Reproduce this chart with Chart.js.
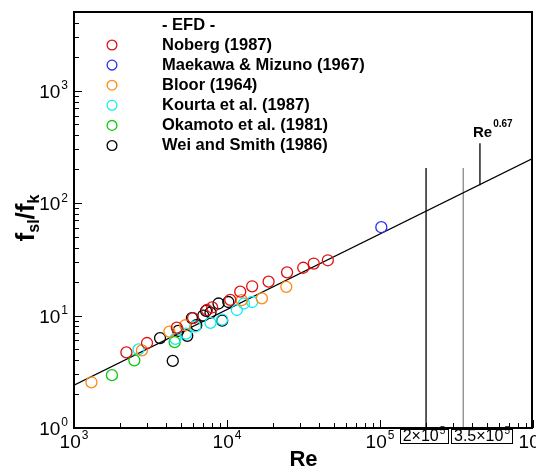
<!DOCTYPE html>
<html>
<head>
<meta charset="utf-8">
<script src="https://cdn.jsdelivr.net/npm/chart.js@4/dist/chart.umd.min.js"></script>
<style>
  html, body { margin: 0; padding: 0; background: #fff; }
  canvas { display: block; }
</style>
</head>
<body>
<canvas id="chart" width="536" height="472"></canvas>
<script>
// ===== f_sl/f_k vs Re (EFD data + Re^0.67 fit) =====

const xDecades = [3, 4, 5, 6];
const yDecades = [0, 1, 2, 3];
const xRange = [1e3, 1e6];
const yRange = [1, 5000];

const seriesNames = ['Noberg (1987)', 'Maekawa & Mizuno (1967)', 'Bloor (1964)', 'Kourta et al. (1987)', 'Okamoto et al. (1981)', 'Wei and Smith (1986)'];
const seriesColors = ['#e01010', '#2a2aff', '#ff8a10', '#10ecf0', '#10c810', '#000000'];

const nobergRe = [2200, 3000, 4700, 6000, 7400, 8000, 10500, 12200, 14600, 18700, 24700, 31500, 36900, 45600];
const nobergF = [4.7, 5.7, 7.8, 9.5, 11.2, 11.8, 13.8, 16.3, 18.2, 20.0, 24.2, 26.6, 29.0, 31.0];

const maekawaRe = [102000];
const maekawaF = [61];

const bloorRe = [1300, 2780, 4200, 5330, 12500, 16900, 24400];
const bloorF = [2.55, 4.9, 7.2, 8.2, 13.7, 14.2, 18.0];

const kourtaRe = [2640, 4600, 5400, 6200, 7800, 9300, 11600, 12900, 14600];
const kourtaF = [5.0, 6.2, 6.9, 8.0, 8.6, 9.2, 11.2, 12.8, 13.2];

const okamotoRe = [1770, 2480, 4550];
const okamotoF = [2.95, 4.0, 5.8];

const weiRe = [3650, 4420, 4800, 5500, 5900, 6300, 7000, 7300, 7800, 8800, 9300, 10200];
const weiF = [6.3, 3.95, 7.3, 6.6, 9.5, 8.2, 10.0, 11.0, 10.6, 12.8, 9.0, 13.2];

// Re^0.67 fit line and the marker lines
const fitRe = [1e3, 1e6];
const fitF = [2.4, 250];
const markRe = [2e5, 3.5e5];
const markTop = 205;
const pointerRe = 4.5e5;
const pointerF = [144, 340];

const FONT = '"Liberation Sans", Arial, sans-serif';

function pts(xs, ys) {
  return xs.map((x, i) => ({ x, y: ys[i] }));
}

const seriesData = [
  pts(nobergRe, nobergF),
  pts(maekawaRe, maekawaF),
  pts(bloorRe, bloorF),
  pts(kourtaRe, kourtaF),
  pts(okamotoRe, okamotoF),
  pts(weiRe, weiF)
];

const datasets = seriesData.map((d, i) => ({
  label: seriesNames[i],
  data: d,
  showLine: false,
  pointStyle: 'circle',
  pointRadius: 5.5,
  pointBorderWidth: 1.3,
  pointBorderColor: seriesColors[i],
  pointBackgroundColor: 'rgba(0,0,0,0)',
  borderColor: seriesColors[i]
}));

function lineSet(data, color) {
  return { data, showLine: true, borderColor: color, borderWidth: 1.3, pointRadius: 0, fill: false };
}

datasets.push(lineSet(pts(fitRe, fitF), '#000'));
datasets.push(lineSet([{ x: markRe[0], y: 1 }, { x: markRe[0], y: markTop }], '#000'));
datasets.push(lineSet([{ x: markRe[1], y: 1 }, { x: markRe[1], y: markTop }], '#888'));
datasets.push(lineSet([{ x: pointerRe, y: pointerF[0] }, { x: pointerRe, y: pointerF[1] }], '#000'));

// "10" with a raised exponent; align: 'center' or 'right'
function drawPow(ctx, x, y, base, exp, size, align, expSize) {
  ctx.font = size + 'px ' + FONT;
  const wb = ctx.measureText(base).width;
  ctx.font = expSize + 'px ' + FONT;
  const we = ctx.measureText(exp).width;
  const total = wb + we + 1;
  let x0 = align === 'center' ? x - total / 2 : x - total;
  ctx.textAlign = 'left';
  ctx.textBaseline = 'alphabetic';
  ctx.font = size + 'px ' + FONT;
  ctx.fillText(base, x0, y);
  ctx.font = expSize + 'px ' + FONT;
  ctx.fillText(exp, x0 + wb + 1, y - size * 0.45);
  return { x0, total };
}

const framePlugin = {
  id: 'frame',
  afterDraw(chart) {
    const { ctx, chartArea: a, scales } = chart;
    const xs = scales.x, ys = scales.y;
    ctx.save();
    ctx.fillStyle = '#000';
    ctx.strokeStyle = '#000';

    // inward ticks
    ctx.lineWidth = 1;
    ctx.beginPath();
    xDecades.forEach(e => {
      for (let m = 1; m <= 9; m++) {
        const v = m * Math.pow(10, e);
        if (v < xRange[0] || v > xRange[1]) continue;
        const px = Math.round(xs.getPixelForValue(v)) + 0.5;
        const len = m === 1 ? 8 : 5;
        ctx.moveTo(px, a.bottom);
        ctx.lineTo(px, a.bottom - len);
      }
    });
    yDecades.forEach(e => {
      for (let m = 1; m <= 9; m++) {
        const v = m * Math.pow(10, e);
        if (v < yRange[0] || v > yRange[1]) continue;
        const py = Math.round(ys.getPixelForValue(v)) + 0.5;
        const len = m === 1 ? 8 : 5;
        ctx.moveTo(a.left, py);
        ctx.lineTo(a.left + len, py);
      }
    });
    ctx.stroke();

    // frame
    ctx.lineWidth = 2;
    ctx.strokeRect(a.left, a.top, a.right - 1 - a.left, a.bottom - a.top);

    // tick labels
    xDecades.forEach(e => {
      const px = xs.getPixelForValue(Math.pow(10, e));
      drawPow(ctx, px, a.bottom + 20, '10', String(e), 19, 'center', 12);
    });
    yDecades.forEach(e => {
      const py = ys.getPixelForValue(Math.pow(10, e));
      drawPow(ctx, a.left - 6, py + 7, '10', String(e), 19, 'right', 12);
    });

    // boxed marker labels below the axis
    const boxLabels = [['2\u00d710', '5'], ['3.5\u00d710', '5']];
    const boxCenters = [424, 482];
    boxLabels.forEach((lb, i) => {
      const r = drawPow(ctx, boxCenters[i], a.bottom + 13, lb[0], lb[1], 16, 'center', 10);
      ctx.lineWidth = 1;
      ctx.strokeRect(Math.round(r.x0 - 3) + 0.5, a.bottom + 1.5, Math.round(r.total + 5), 14);
    });

    // axis titles
    ctx.textBaseline = 'alphabetic';
    ctx.textAlign = 'center';
    ctx.font = 'bold 22px ' + FONT;
    ctx.fillText('Re', (a.left + a.right) / 2, a.bottom + 38);

    const runs = [['f', false], ['sl', true], ['/f', false], ['k', true]];
    ctx.save();
    ctx.translate(34, (a.top + a.bottom) / 2 - 2);
    ctx.rotate(-Math.PI / 2);
    let tw = 0;
    runs.forEach(r => {
      ctx.font = 'bold ' + (r[1] ? 16 : 26) + 'px ' + FONT;
      tw += ctx.measureText(r[0]).width;
    });
    let cx = -tw / 2;
    ctx.textAlign = 'left';
    runs.forEach(r => {
      ctx.font = 'bold ' + (r[1] ? 16 : 26) + 'px ' + FONT;
      ctx.fillText(r[0], cx, r[1] ? 5 : 0);
      cx += ctx.measureText(r[0]).width;
    });
    ctx.restore();

    // Re^0.67 label
    ctx.textAlign = 'left';
    ctx.font = 'bold 15px ' + FONT;
    ctx.fillText('Re', 473, 137);
    const wRe = ctx.measureText('Re').width;
    ctx.font = 'bold 10px ' + FONT;
    ctx.fillText('0.67', 473 + wRe + 1, 127);

    // legend
    ctx.font = 'bold 16.5px ' + FONT;
    ctx.textBaseline = 'middle';
    ctx.fillText('- EFD -', 162, 25);
    seriesNames.forEach((name, i) => {
      const y = 45 + i * 20.1;
      ctx.beginPath();
      ctx.lineWidth = 1.3;
      ctx.strokeStyle = seriesColors[i];
      ctx.arc(112, y, 4.9, 0, Math.PI * 2);
      ctx.stroke();
      ctx.fillStyle = '#000';
      ctx.fillText(name, 162, y);
    });

    ctx.restore();
  }
};

new Chart(document.getElementById('chart'), {
  type: 'scatter',
  data: { datasets },
  options: {
    responsive: false,
    animation: false,
    layout: { autoPadding: false, padding: { top: 12, right: 3, left: 0, bottom: 0 } },
    plugins: { legend: { display: false }, tooltip: { enabled: false } },
    scales: {
      x: {
        type: 'logarithmic', min: xRange[0], max: xRange[1],
        ticks: { display: false }, grid: { display: false }, border: { display: false },
        afterFit: s => { s.height = 44; }
      },
      y: {
        type: 'logarithmic', min: yRange[0], max: yRange[1],
        ticks: { display: false }, grid: { display: false }, border: { display: false },
        afterFit: s => { s.width = 74; }
      }
    }
  },
  plugins: [framePlugin]
});
</script>
</body>
</html>
